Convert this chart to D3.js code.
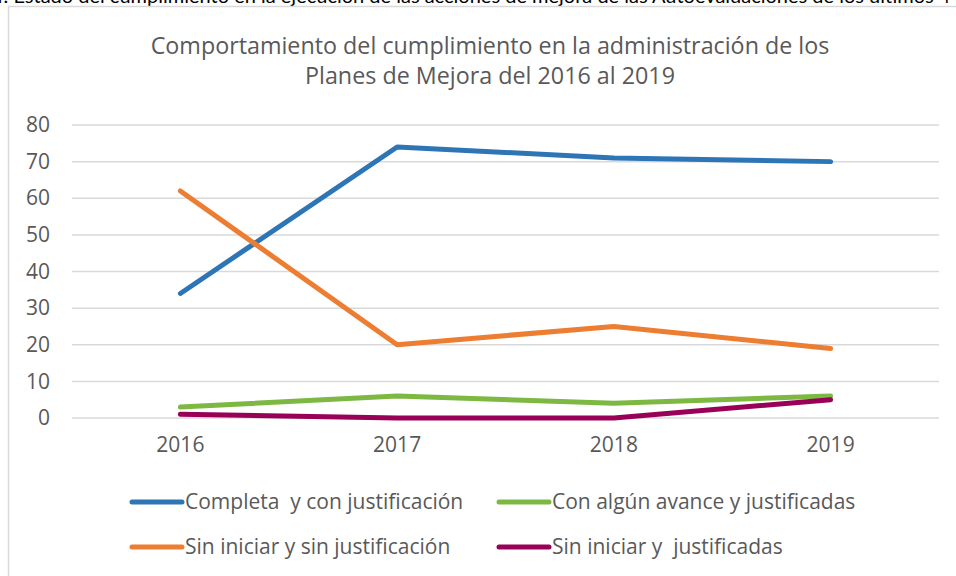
<!DOCTYPE html>
<html>
<head>
<meta charset="utf-8">
<script src="https://cdn.jsdelivr.net/npm/d3@7"></script>
<style>
  body { margin: 0; background: #fff; }
  svg { display: block; font-family: "Open Sans", Lato, sans-serif; }
  .keep { white-space: pre; }
</style>
</head>
<body>
<div id="chart"></div>
<script>
// Chart data
var years = ["2016", "2017", "2018", "2019"];
var completa = [34, 74, 71, 70];
var sinIniciarSinJust = [62, 20, 25, 19];
var conAvance = [3, 6, 4, 6];
var sinIniciarJust = [1, 0, 0, 5];
var yTicks = [0, 10, 20, 30, 40, 50, 60, 70, 80];
var seriesNames = ["Completa  y con justificación", "Con algún avance y justificadas",
                   "Sin iniciar y sin justificación", "Sin iniciar y  justificadas"];

var W = 956, H = 576;
var margin = { top: 125, right: 17, bottom: 158, left: 72 };
var w = W - margin.left - margin.right;
var h = H - margin.top - margin.bottom;

var svg = d3.select("#chart").append("svg")
    .attr("width", W)
    .attr("height", H);

// caption above the frame (cut off at the top)
svg.append("text")
    .attr("x", -8)
    .attr("y", 3)
    .attr("font-family", "Lato, sans-serif")
    .attr("font-size", "20px")
    .attr("fill", "#000")
    .text("4. Estado del cumplimiento en la ejecución de las acciones de mejora de las Autoevaluaciones de los últimos 4 años");

// chart frame
svg.append("rect")
    .attr("x", 8.5).attr("y", 6.5)
    .attr("width", W + 20).attr("height", H + 20)
    .attr("fill", "none")
    .attr("stroke", "#d9d9d9")
    .attr("stroke-width", 1.5);

// title
svg.append("text")
    .attr("x", 490).attr("y", 54)
    .attr("text-anchor", "middle")
    .attr("font-size", "23.3px")
    .attr("fill", "#595959")
    .text("Comportamiento del cumplimiento en la administración de los");
svg.append("text")
    .attr("x", 490).attr("y", 84)
    .attr("text-anchor", "middle")
    .attr("font-size", "23.3px")
    .attr("fill", "#595959")
    .text("Planes de Mejora del 2016 al 2019");

var g = svg.append("g")
    .attr("transform", "translate(" + margin.left + "," + margin.top + ")");

var xScale = d3.scaleBand().domain(years).range([0, w]);
var yScale = d3.scaleLinear().domain([0, 80]).range([h, 0]);

// gridlines
g.selectAll(".grid")
    .data(yTicks)
    .enter()
    .append("line")
    .attr("x1", 0).attr("x2", w)
    .attr("y1", function(d) { return yScale(d); })
    .attr("y2", function(d) { return yScale(d); })
    .attr("stroke", "#d9d9d9")
    .attr("stroke-width", 1.5);

// y axis
var yAxis = g.append("g")
    .call(d3.axisLeft(yScale).tickValues(yTicks).tickSize(0).tickPadding(22));
yAxis.select(".domain").remove();
yAxis.selectAll("text")
    .attr("font-family", "'Open Sans', sans-serif")
    .attr("font-size", "21px")
    .attr("fill", "#595959");

// x axis
var xAxis = g.append("g")
    .attr("transform", "translate(0," + h + ")")
    .call(d3.axisBottom(xScale).tickSize(0).tickPadding(19));
xAxis.select(".domain").remove();
xAxis.selectAll("text")
    .attr("font-family", "'Open Sans', sans-serif")
    .attr("font-size", "21px")
    .attr("fill", "#595959");

var series = [
    { name: seriesNames[0], values: completa, color: "#2e75b6" },
    { name: seriesNames[1], values: conAvance, color: "#7cb842" },
    { name: seriesNames[2], values: sinIniciarSinJust, color: "#ed7d31" },
    { name: seriesNames[3], values: sinIniciarJust, color: "#990057" }
];

var line = d3.line()
    .x(function(d, i) { return xScale(years[i]) + xScale.bandwidth() / 2; })
    .y(function(d) { return yScale(d); });

// draw order: purple drawn last so it overlaps green at 2019
var drawOrder = [0, 2, 1, 3];
drawOrder.forEach(function(k) {
    var s = series[k];
    g.append("path")
        .datum(s.values)
        .attr("d", line)
        .attr("fill", "none")
        .attr("stroke", s.color)
        .attr("stroke-width", 5)
        .attr("stroke-linecap", "round")
        .attr("stroke-linejoin", "round");
});

// legend
var legendX = [130, 497];
var legendY = [502, 547];
series.forEach(function(s, i) {
    var lx = legendX[i % 2], ly = legendY[Math.floor(i / 2)];
    svg.append("line")
        .attr("x1", lx + 2).attr("x2", lx + 52)
        .attr("y1", ly).attr("y2", ly)
        .attr("stroke", s.color)
        .attr("stroke-width", 5)
        .attr("stroke-linecap", "round");
    svg.append("text")
        .attr("class", "keep")
        .attr("x", lx + 55)
        .attr("y", ly + 7)
        .attr("font-size", "21px")
        .attr("fill", "#595959")
        .text(s.name);
});
</script>
</body>
</html>
